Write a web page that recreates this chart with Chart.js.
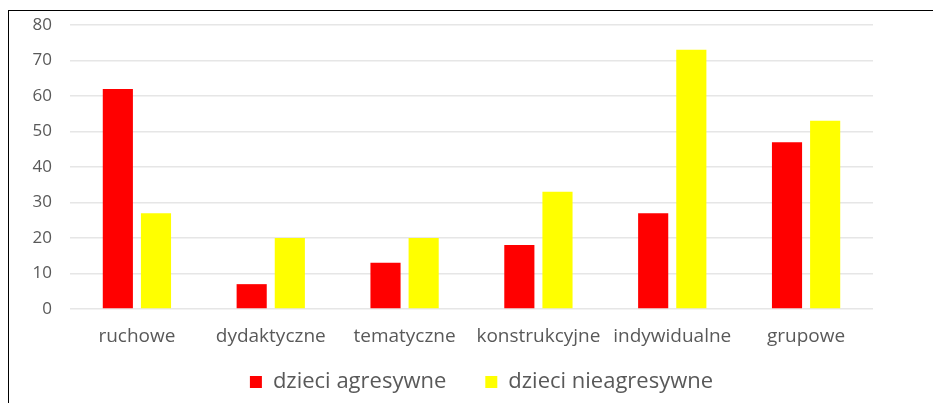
<!DOCTYPE html>
<html>
<head>
<meta charset="utf-8">
<script src="https://cdn.jsdelivr.net/npm/chart.js@4"></script>
<style>
html,body{margin:0;padding:0;background:#fff;}
#wrap{position:absolute;left:0;top:0;width:933px;height:403px;}
#frame{position:absolute;left:8px;top:10px;width:925px;height:393px;border-top:1px solid #000;border-left:1px solid #000;box-sizing:border-box;}
canvas{position:absolute;left:0;top:0;}
</style>
</head>
<body>
<div id="wrap">
<div id="frame"></div>
<canvas id="c" width="933" height="403"></canvas>
</div>
<script>
const categories = ["ruchowe","dydaktyczne","tematyczne","konstrukcyjne","indywidualne","grupowe"];
const seriesNames = ["dzieci agresywne","dzieci nieagresywne"];
const agresywne = [62,7,13,18,27,47];
const nieagresywne = [27,20,20,33,73,53];
const yTicks = [0,10,20,30,40,50,60,70,80];

const FONT = "'Open Sans', 'Noto Sans', sans-serif";
const GRAY = "#595959";
const LEG_PAD = 18;   // vertical padding used by layout
const LEG_GAP = 39;   // horizontal gap between legend items
const LEG_SHIFT = 24; // legend centred on the full frame rather than plot

const legendGap = {
  id: 'legendGap',
  afterLayout(chart) {
    const lg = chart.legend;
    if (!lg || !lg.lineWidths) return;
    const d = LEG_GAP - LEG_PAD;
    lg.options.labels.padding = LEG_GAP;
    lg.top -= d;
    lg.left += LEG_SHIFT;
    lg.right += LEG_SHIFT;
  }
};

new Chart(document.getElementById('c'), {
  type: 'bar',
  data: {
    labels: categories,
    datasets: [
      {label: seriesNames[0], data: agresywne, backgroundColor: '#ff0000', borderWidth: 0},
      {label: seriesNames[1], data: nieagresywne, backgroundColor: '#ffff00', borderWidth: 0}
    ]
  },
  plugins: [legendGap],
  options: {
    responsive: false,
    animation: false,
    devicePixelRatio: 1,
    categoryPercentage: 0.57,
    barPercentage: 0.79,
    layout: {padding: {left: 0, right: 60, top: 25, bottom: 0}},
    plugins: {
      tooltip: {enabled: false},
      legend: {
        position: 'bottom',
        labels: {
          font: {family: FONT, size: 22},
          color: GRAY,
          boxWidth: 12,
          boxHeight: 12,
          padding: LEG_PAD
        }
      }
    },
    scales: {
      x: {
        grid: {display: false},
        border: {display: false},
        ticks: {font: {family: FONT, size: 19}, color: GRAY, padding: 8, maxRotation: 0, autoSkip: false},
        afterFit: (s) => { s.height = 44; s.paddingLeft = 0; s.paddingRight = 0; }
      },
      y: {
        min: 0, max: 80,
        afterBuildTicks: (s) => { s.ticks = yTicks.map(v => ({value: v})); },
        grid: {color: '#e6e6e6', lineWidth: 1.5, drawTicks: false},
        border: {display: false},
        ticks: {font: {family: FONT, size: 17}, color: GRAY, padding: 18},
        afterFit: (s) => { s.width = 70; s.paddingTop = 0; s.paddingBottom = 0; }
      }
    }
  }
});
</script>
</body>
</html>
